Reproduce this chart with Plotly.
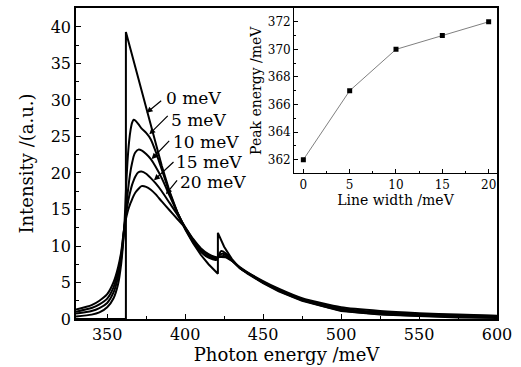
import plotly.graph_objects as go

# ---- main spectra (Photon energy /meV vs Intensity /a.u.) ----
x0 = [330, 362, 362, 365, 370, 375, 380, 385, 390, 395, 400, 405, 410, 415, 421, 421,
      425, 430, 435, 440, 450, 460, 475, 500, 525, 550, 575, 600]
y0 = [0, 0, 39.3, 36.9, 32.9, 28.9, 24.9, 21.0, 17.5, 14.6, 12.3, 10.4, 8.8, 7.5, 6.2, 11.8,
      9.9, 8.2, 7.0, 6.2, 4.9, 3.8, 2.5, 1.1, 0.6, 0.35, 0.2, 0.15]

xs = [330, 340, 345, 350, 354, 357, 359, 360, 361, 362, 363, 364, 365, 366, 367, 368,
      370, 372, 375, 378, 381, 385, 390, 395, 400, 405, 410, 415, 420, 423, 426, 430,
      435, 440, 450, 460, 475, 500, 525, 550, 575, 600]
y5 = [0.35, 0.6, 0.9, 1.6, 2.8, 4.8, 7.6, 9.8, 12.6, 17.5, 21.5, 24.2, 25.9, 26.9, 27.3, 27.2,
      26.7, 26.1, 25.5, 24.6, 23.0, 20.5, 17.3, 14.6, 12.4, 10.6, 9.2, 8.4, 8.1, 9.3, 9.0, 8.1,
      7.0, 6.3, 5.0, 3.9, 2.6, 1.2, 0.7, 0.45, 0.3, 0.2]
y10 = [0.75, 1.1, 1.5, 2.2, 3.6, 5.8, 8.3, 10.3, 12.6, 14.8, 17.0, 18.8, 20.3, 21.4, 22.3, 22.8,
       23.2, 23.1, 22.6, 21.9, 20.9, 19.3, 16.9, 14.6, 12.5, 10.7, 9.3, 8.5, 8.3, 8.9, 8.8, 8.0,
       7.0, 6.3, 5.0, 3.95, 2.65, 1.3, 0.8, 0.55, 0.4, 0.3]
y15 = [1.0, 1.5, 2.0, 2.8, 4.3, 6.5, 8.8, 10.6, 12.6, 14.2, 15.6, 16.7, 17.6, 18.4, 19.0, 19.5,
       20.1, 20.2, 19.9, 19.3, 18.6, 17.5, 15.9, 14.3, 12.6, 10.9, 9.5, 8.7, 8.35, 8.6, 8.6, 8.0,
       7.05, 6.35, 5.1, 4.05, 2.75, 1.45, 0.95, 0.7, 0.5, 0.4]
y20 = [1.3, 1.9, 2.5, 3.4, 5.0, 7.1, 9.2, 10.9, 12.6, 13.7, 14.6, 15.3, 15.9, 16.4, 16.9, 17.3,
       17.8, 18.2, 18.1, 17.7, 17.1, 16.1, 14.9, 13.7, 12.5, 11.0, 9.7, 8.9, 8.45, 8.5, 8.45, 7.95,
       7.1, 6.4, 5.2, 4.15, 2.85, 1.6, 1.1, 0.8, 0.6, 0.45]

labels = ["0 meV", "5 meV", "10 meV", "15 meV", "20 meV"]
label_x = [386.5, 389.8, 390.8, 393.0, 395.7]
label_y = [30.3, 27.2, 24.2, 21.5, 18.75]
arrow_tail_x = [385.6, 389.8, 390.7, 393.5, 395.6]
arrow_tail_y = [30.06, 28.03, 24.6, 21.7, 19.2]
arrow_head_x = [375.3, 377.0, 378.5, 380.0, 387.7]
arrow_head_y = [28.24, 25.3, 21.9, 19.0, 17.1]

# ---- inset ----
line_width = [0, 5, 10, 15, 20]
peak_energy = [362, 367, 370, 371, 372]

FONT = "DejaVu Serif"

fig = go.Figure()
fig.add_trace(go.Scatter(x=x0, y=y0, mode="lines", line=dict(color="black", width=2),
                         showlegend=False))
for yy in (y5, y10, y15, y20):
    fig.add_trace(go.Scatter(x=xs, y=yy, mode="lines",
                             line=dict(color="black", width=2, shape="spline", smoothing=0.6),
                             showlegend=False))

fig.add_trace(go.Scatter(x=line_width, y=peak_energy, mode="lines+markers",
                         line=dict(color="#808080", width=1),
                         marker=dict(symbol="square", size=5, color="black"),
                         xaxis="x2", yaxis="y2", showlegend=False))

annotations = []
for t, lx, ly in zip(labels, label_x, label_y):
    annotations.append(dict(x=lx, y=ly, xref="x", yref="y", text=t, showarrow=False,
                            xanchor="left", yanchor="middle",
                            font=dict(family=FONT, size=17, color="black")))
for tx, ty, hx, hy in zip(arrow_tail_x, arrow_tail_y, arrow_head_x, arrow_head_y):
    annotations.append(dict(x=hx, y=hy, ax=tx, ay=ty, xref="x", yref="y", axref="x", ayref="y",
                            text="", showarrow=True, arrowhead=2, arrowsize=1, arrowwidth=1.2,
                            arrowcolor="black"))

axis_common = dict(showgrid=False, zeroline=False, showline=True, linecolor="black",
                   ticks="inside", tickcolor="black")

fig.update_layout(
    width=521, height=367,
    margin=dict(l=76, r=24, t=6, b=47),
    paper_bgcolor="white", plot_bgcolor="white",
    font=dict(family=FONT, color="black"),
    annotations=annotations,
    xaxis=dict(**axis_common, domain=[0, 1], range=[330, 600], tick0=350, dtick=50,
               linewidth=1.6, mirror=True, ticklen=5, tickwidth=1.3,
               minor=dict(dtick=25, tick0=325, ticks="inside", ticklen=3, tickcolor="black"),
               tickfont=dict(family=FONT, size=16),
               title=dict(text="Photon energy /meV", font=dict(family=FONT, size=18), standoff=4)),
    yaxis=dict(**axis_common, domain=[0, 1], range=[0, 42.6], tick0=0, dtick=5,
               linewidth=1.6, mirror=True, ticklen=5, tickwidth=1.3,
               minor=dict(dtick=2.5, tick0=0, ticks="inside", ticklen=3, tickcolor="black"),
               tickfont=dict(family=FONT, size=16),
               title=dict(text="Intensity /(a.u.)", font=dict(family=FONT, size=18), standoff=12)),
    xaxis2=dict(**axis_common, domain=[0.518, 1], anchor="y2", range=[-1, 20.9], tick0=0, dtick=5,
                linewidth=1, ticklen=4, minor=dict(dtick=2.5, tick0=0, ticks="inside", ticklen=2,
                                                   tickcolor="black"),
                tickfont=dict(family=FONT, size=12),
                title=dict(text="Line width /meV", font=dict(family=FONT, size=14), standoff=2)),
    yaxis2=dict(**axis_common, domain=[0.468, 1], anchor="x2", range=[361, 373], tick0=362, dtick=2,
                linewidth=1, ticklen=4, minor=dict(dtick=1, tick0=361, ticks="inside", ticklen=2,
                                                   tickcolor="black"),
                tickfont=dict(family=FONT, size=12),
                title=dict(text="Peak energy /meV", font=dict(family=FONT, size=14), standoff=2)),
)

fig.write_html("out.html", config={"displayModeBar": False},
               post_script="document.body.style.margin='0';document.body.style.padding='0';")
